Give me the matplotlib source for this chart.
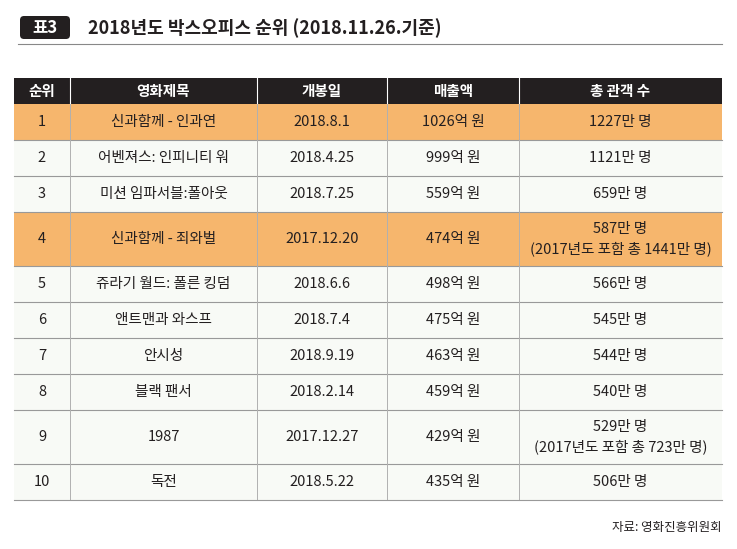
import matplotlib.pyplot as plt
from matplotlib import font_manager
from matplotlib.patches import Rectangle, FancyBboxPatch

# pick whichever CJK family is actually registered
names = sorted({f.name for f in font_manager.fontManager.ttflist if 'CJK' in f.name})
pref = [n for n in ['Noto Sans CJK KR', 'Noto Sans CJK JP', 'Noto Sans CJK SC'] if n in names]
plt.rcParams['font.family'] = (pref or names or ['DejaVu Sans'])[:1] + ['DejaVu Sans']

headers = ['순위', '영화제목', '개봉일', '매출액', '총 관객 수']
ranks = ['1', '2', '3', '4', '5', '6', '7', '8', '9', '10']
titles = ['신과함께 - 인과연', '어벤져스: 인피니티 워', '미션 임파서블:폴아웃', '신과함께 - 죄와벌',
          '쥬라기 월드: 폴른 킹덤', '앤트맨과 와스프', '안시성', '블랙 팬서', '1987', '독전']
dates = ['2018.8.1', '2018.4.25', '2018.7.25', '2017.12.20', '2018.6.6',
         '2018.7.4', '2018.9.19', '2018.2.14', '2017.12.27', '2018.5.22']
sales = ['1026억 원', '999억 원', '559억 원', '474억 원', '498억 원',
         '475억 원', '463억 원', '459억 원', '429억 원', '435억 원']
audience = ['1227만 명', '1121만 명', '659만 명', '587만 명\n(2017년도 포함 총 1441만 명)', '566만 명',
            '545만 명', '544만 명', '540만 명', '529만 명\n(2017년도 포함 총 723만 명)', '506만 명']
highlight = [True, False, False, True, False, False, False, False, False, False]

W, H = 737, 549
fig = plt.figure(figsize=(W / 100, H / 100), dpi=100)
ax = fig.add_axes([0, 0, 1, 1])
ax.set_xlim(0, W)
ax.set_ylim(H, 0)
ax.axis('off')

# title
ax.add_patch(FancyBboxPatch((20, 16), 50, 23, boxstyle='round,pad=0,rounding_size=4',
                            fc='#231f20', ec='none'))
ax.text(45, 28, '표3', color='white', fontsize=12, fontweight='bold', ha='center', va='center')
ax.text(88, 28, '2018년도 박스오피스 순위 (2018.11.26.기준)', fontsize=13, fontweight='bold',
        ha='left', va='center', color='#231f20')
ax.plot([18, 722], [44, 44], color='#888888', lw=0.8)

cols = [14, 70, 257, 387, 519, 722]
top, hh = 78, 26
ax.add_patch(Rectangle((cols[0], top), cols[-1] - cols[0], hh, fc='#231f20', ec='none'))
for i, h in enumerate(headers):
    ax.text((cols[i] + cols[i + 1]) / 2, top + hh / 2, h, color='white', fontsize=10.5,
            fontweight='bold', ha='center', va='center')
for x in cols[1:-1]:
    ax.plot([x, x], [top, top + hh], color='white', lw=0.8)

y = top + hh
for r in range(len(ranks)):
    rh = 54 if '\n' in audience[r] else 36
    ax.add_patch(Rectangle((cols[0], y), cols[-1] - cols[0], rh,
                           fc='#f6b66d' if highlight[r] else '#f8faf6', ec='none'))
    vals = [ranks[r], titles[r], dates[r], sales[r], audience[r]]
    for i, v in enumerate(vals):
        ax.text((cols[i] + cols[i + 1]) / 2, y + rh / 2, v, fontsize=10.5, ha='center',
                va='center', color='#231f20', linespacing=1.5)
    for x in cols[1:-1]:
        ax.plot([x, x], [y, y + rh], color='#b0b0b0', lw=0.7)
    y += rh
    ax.plot([cols[0], cols[-1]], [y, y], color='#999999', lw=0.8)

ax.text(722, 527, '자료: 영화진흥위원회', fontsize=9, ha='right', va='center', color='#231f20')

fig.savefig('out.png', dpi=100)
